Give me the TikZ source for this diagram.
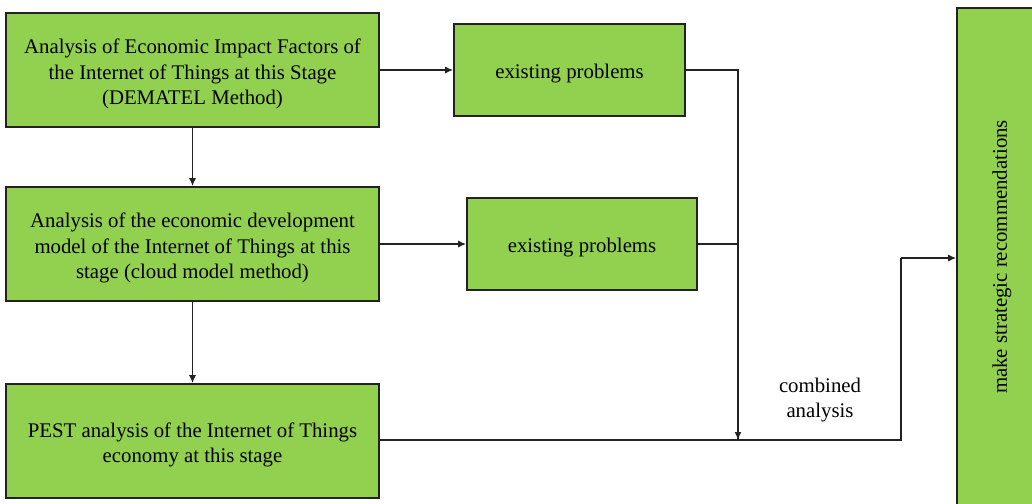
\documentclass[tikz,border=0pt]{standalone}
\usepackage{fontspec}
\setmainfont{Liberation Serif}
\usetikzlibrary{arrows.meta}
\definecolor{boxgreen}{HTML}{92D050}
\definecolor{edge}{HTML}{222222}
\begin{document}
\begin{tikzpicture}[x=1pt,y=-1pt,
  txt/.style={font=\fontsize{20.8}{25.5}\selectfont},
  box/.style={draw=edge, line width=1.6pt, fill=boxgreen, rectangle, inner sep=0pt},
  boxtext/.style={label={[txt, align=center, yshift=-4pt]center:#1}},
  conn/.style={draw=edge, line width=1.5pt},
  arr/.style={conn, -{Latex[length=8pt,width=7pt]}}]
\useasboundingbox (0,0) rectangle (1032,503);
\clip (0,0) rectangle (1032,503);
\node[box, minimum width=373pt, minimum height=114pt, boxtext={Analysis of Economic Impact Factors of\\the Internet of Things at this Stage\\(DEMATEL Method)}] (a) at (192.5,70) {};
\node[box, minimum width=373pt, minimum height=114pt, boxtext={Analysis of the economic development\\model of the Internet of Things at this\\stage (cloud model method)}] (c) at (192.5,244) {};
\node[box, minimum width=373pt, minimum height=114pt, boxtext={PEST analysis of the Internet of Things\\economy at this stage}] (e) at (192.5,441) {};
\node[box, minimum width=231pt, minimum height=92pt, boxtext={existing problems}] (b) at (569.5,70) {};
\node[box, minimum width=230pt, minimum height=92pt, boxtext={existing problems}] (d) at (582,244) {};
\node[box, minimum width=92pt, minimum height=510pt] (f) at (1003,263) {};
\node[rotate=90, txt] (ft) at (1002,257) {make strategic recommendations};
\node[align=center, txt] (lbl) at (820,400) {combined\\analysis};
\coordinate (j) at (738,440);
\coordinate (t) at (901,258);
\draw[arr] (a.south) -- (c.north);
\draw[arr] (c.south) -- (e.north);
\draw[arr] (a.east |- b.west) -- (b.west);
\draw[arr] (c.east |- d.west) -- (d.west);
\draw[conn] (b.east) -| (j);
\draw[conn] (d.east) -- (d.east -| j);
\draw[arr] (d.east -| j) -- (j);
\draw[conn] (e.east |- j) -- (j);
\draw[conn] (j) -- (j -| t) -- (t);
\draw[arr] (t) -- (t -| f.west);
\end{tikzpicture}
\end{document}
